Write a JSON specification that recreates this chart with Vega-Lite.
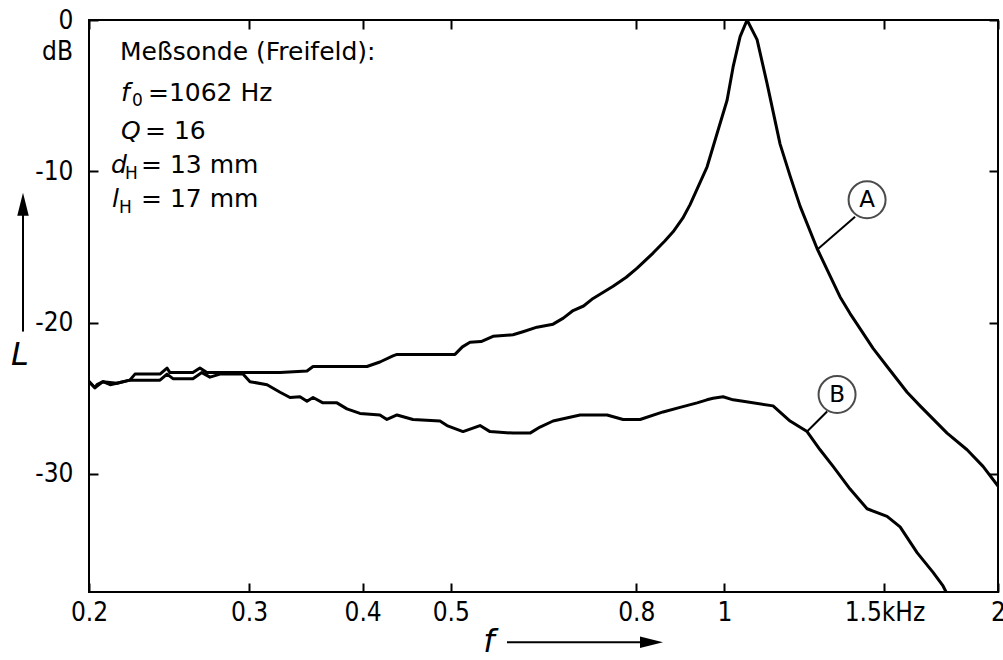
{
  "$schema": "https://vega.github.io/schema/vega-lite/v6.json",
  "width": 909,
  "height": 572,
  "autosize": {"type": "none"},
  "padding": {"left": 89, "top": 20, "right": 5, "bottom": 68},
  "background": "white",
  "config": {
    "view": {"stroke": "black", "strokeWidth": 2},
    "font": "DejaVu Sans",
    "axis": {
      "domain": false,
      "grid": false,
      "tickColor": "black",
      "tickWidth": 2,
      "tickSize": -9,
      "labelColor": "black",
      "labelFont": "DejaVu Sans Condensed",
      "labelFontSize": 26,
      "labelFlush": false,
      "labelOverlap": false,
      "title": null
    }
  },
  "datasets": {
    "curves": [
      {"c": "A", "f": 0.2000, "L": -23.9},
      {"c": "A", "f": 0.2030, "L": -24.3},
      {"c": "A", "f": 0.2041, "L": -24.1},
      {"c": "A", "f": 0.2072, "L": -23.9},
      {"c": "A", "f": 0.2110, "L": -24.1},
      {"c": "A", "f": 0.2146, "L": -24.0},
      {"c": "A", "f": 0.2218, "L": -23.8},
      {"c": "A", "f": 0.2247, "L": -23.4},
      {"c": "A", "f": 0.2394, "L": -23.4},
      {"c": "A", "f": 0.2437, "L": -23.0},
      {"c": "A", "f": 0.2455, "L": -23.3},
      {"c": "A", "f": 0.2602, "L": -23.3},
      {"c": "A", "f": 0.2649, "L": -23.0},
      {"c": "A", "f": 0.2696, "L": -23.3},
      {"c": "A", "f": 0.2931, "L": -23.3},
      {"c": "A", "f": 0.3245, "L": -23.3},
      {"c": "A", "f": 0.3474, "L": -23.2},
      {"c": "A", "f": 0.3528, "L": -22.9},
      {"c": "A", "f": 0.4044, "L": -22.9},
      {"c": "A", "f": 0.4179, "L": -22.6},
      {"c": "A", "f": 0.4319, "L": -22.2},
      {"c": "A", "f": 0.4364, "L": -22.1},
      {"c": "A", "f": 0.5054, "L": -22.1},
      {"c": "A", "f": 0.5150, "L": -21.6},
      {"c": "A", "f": 0.5250, "L": -21.3},
      {"c": "A", "f": 0.5400, "L": -21.25},
      {"c": "A", "f": 0.5565, "L": -20.9},
      {"c": "A", "f": 0.5854, "L": -20.8},
      {"c": "A", "f": 0.6004, "L": -20.6},
      {"c": "A", "f": 0.6221, "L": -20.3},
      {"c": "A", "f": 0.6480, "L": -20.1},
      {"c": "A", "f": 0.6650, "L": -19.7},
      {"c": "A", "f": 0.6817, "L": -19.2},
      {"c": "A", "f": 0.7000, "L": -18.9},
      {"c": "A", "f": 0.7171, "L": -18.4},
      {"c": "A", "f": 0.7544, "L": -17.6},
      {"c": "A", "f": 0.7800, "L": -17.0},
      {"c": "A", "f": 0.8017, "L": -16.4},
      {"c": "A", "f": 0.8348, "L": -15.4},
      {"c": "A", "f": 0.8600, "L": -14.6},
      {"c": "A", "f": 0.8782, "L": -14.0},
      {"c": "A", "f": 0.9000, "L": -13.1},
      {"c": "A", "f": 0.9168, "L": -12.2},
      {"c": "A", "f": 0.9572, "L": -9.7},
      {"c": "A", "f": 0.9817, "L": -7.5},
      {"c": "A", "f": 1.0069, "L": -5.3},
      {"c": "A", "f": 1.0224, "L": -3.1},
      {"c": "A", "f": 1.0407, "L": -1.1},
      {"c": "A", "f": 1.0593, "L": 0.0},
      {"c": "A", "f": 1.0864, "L": -1.3},
      {"c": "A", "f": 1.1143, "L": -4.2},
      {"c": "A", "f": 1.1516, "L": -8.2},
      {"c": "A", "f": 1.1811, "L": -10.3},
      {"c": "A", "f": 1.2114, "L": -12.3},
      {"c": "A", "f": 1.2647, "L": -15.1},
      {"c": "A", "f": 1.2972, "L": -16.5},
      {"c": "A", "f": 1.3406, "L": -18.3},
      {"c": "A", "f": 1.3750, "L": -19.4},
      {"c": "A", "f": 1.3996, "L": -20.1},
      {"c": "A", "f": 1.4575, "L": -21.7},
      {"c": "A", "f": 1.5101, "L": -22.9},
      {"c": "A", "f": 1.5887, "L": -24.6},
      {"c": "A", "f": 1.6417, "L": -25.5},
      {"c": "A", "f": 1.7579, "L": -27.3},
      {"c": "A", "f": 1.8492, "L": -28.4},
      {"c": "A", "f": 1.9256, "L": -29.5},
      {"c": "A", "f": 2.0000, "L": -30.8},
      {"c": "B", "f": 0.2000, "L": -23.9},
      {"c": "B", "f": 0.2030, "L": -24.3},
      {"c": "B", "f": 0.2072, "L": -23.9},
      {"c": "B", "f": 0.2146, "L": -24.0},
      {"c": "B", "f": 0.2218, "L": -23.8},
      {"c": "B", "f": 0.2394, "L": -23.8},
      {"c": "B", "f": 0.2437, "L": -23.4},
      {"c": "B", "f": 0.2474, "L": -23.7},
      {"c": "B", "f": 0.2602, "L": -23.7},
      {"c": "B", "f": 0.2662, "L": -23.3},
      {"c": "B", "f": 0.2717, "L": -23.6},
      {"c": "B", "f": 0.2787, "L": -23.4},
      {"c": "B", "f": 0.2954, "L": -23.4},
      {"c": "B", "f": 0.3007, "L": -23.9},
      {"c": "B", "f": 0.3140, "L": -24.1},
      {"c": "B", "f": 0.3245, "L": -24.6},
      {"c": "B", "f": 0.3328, "L": -24.95},
      {"c": "B", "f": 0.3413, "L": -24.9},
      {"c": "B", "f": 0.3474, "L": -25.2},
      {"c": "B", "f": 0.3528, "L": -24.95},
      {"c": "B", "f": 0.3617, "L": -25.3},
      {"c": "B", "f": 0.3748, "L": -25.3},
      {"c": "B", "f": 0.3844, "L": -25.7},
      {"c": "B", "f": 0.3973, "L": -26.0},
      {"c": "B", "f": 0.4179, "L": -26.1},
      {"c": "B", "f": 0.4254, "L": -26.4},
      {"c": "B", "f": 0.4364, "L": -26.1},
      {"c": "B", "f": 0.4544, "L": -26.4},
      {"c": "B", "f": 0.4866, "L": -26.5},
      {"c": "B", "f": 0.4953, "L": -26.8},
      {"c": "B", "f": 0.5158, "L": -27.2},
      {"c": "B", "f": 0.5385, "L": -26.8},
      {"c": "B", "f": 0.5523, "L": -27.2},
      {"c": "B", "f": 0.5854, "L": -27.3},
      {"c": "B", "f": 0.6112, "L": -27.3},
      {"c": "B", "f": 0.6269, "L": -26.9},
      {"c": "B", "f": 0.6480, "L": -26.5},
      {"c": "B", "f": 0.6939, "L": -26.1},
      {"c": "B", "f": 0.7430, "L": -26.1},
      {"c": "B", "f": 0.7737, "L": -26.4},
      {"c": "B", "f": 0.8078, "L": -26.4},
      {"c": "B", "f": 0.8562, "L": -25.9},
      {"c": "B", "f": 0.8939, "L": -25.6},
      {"c": "B", "f": 0.9332, "L": -25.3},
      {"c": "B", "f": 0.9568, "L": -25.1},
      {"c": "B", "f": 0.9718, "L": -25.0},
      {"c": "B", "f": 0.9968, "L": -24.9},
      {"c": "B", "f": 1.0224, "L": -25.1},
      {"c": "B", "f": 1.0486, "L": -25.2},
      {"c": "B", "f": 1.1313, "L": -25.5},
      {"c": "B", "f": 1.1811, "L": -26.5},
      {"c": "B", "f": 1.2331, "L": -27.2},
      {"c": "B", "f": 1.2744, "L": -28.4},
      {"c": "B", "f": 1.3171, "L": -29.5},
      {"c": "B", "f": 1.3750, "L": -31.0},
      {"c": "B", "f": 1.4355, "L": -32.3},
      {"c": "B", "f": 1.5101, "L": -32.8},
      {"c": "B", "f": 1.5607, "L": -33.5},
      {"c": "B", "f": 1.6293, "L": -35.2},
      {"c": "B", "f": 1.6967, "L": -36.5},
      {"c": "B", "f": 1.7401, "L": -37.4},
      {"c": "B", "f": 1.7710, "L": -38.3}
    ],
    "rules": [
      {"x": 1.3925, "y": -13.0, "x2": 1.2647, "y2": -15.18},
      {"x": 1.2972, "y": -25.87, "x2": 1.2331, "y2": -27.19},
      {"x": 0.1692, "y": -20.59, "x2": 0.1692, "y2": -12.6},
      {"x": 0.5766, "y": -41.12, "x2": 0.818, "y2": -41.12}
    ],
    "circles": [
      {"x": 1.4355, "y": -11.88, "t": "A"},
      {"x": 1.3304, "y": -24.75, "t": "B"}
    ],
    "heads": [
      {"x": 0.1692, "y": -12.18, "s": "M0,-1L0.5,1L-0.5,1Z"},
      {"x": 0.8315, "y": -41.12, "s": "M1,0L-1,0.5L-1,-0.5Z"}
    ],
    "normal": [
      {"x": 0.2163, "y": -2.11, "t": "Meßsonde (Freifeld):"},
      {"x": 0.2322, "y": -4.82, "t": "=1062 Hz"},
      {"x": 0.2305, "y": -7.33, "t": "= 16"},
      {"x": 0.2282, "y": -9.57, "t": "= 13 mm"},
      {"x": 0.2282, "y": -11.82, "t": "= 17 mm"}
    ],
    "italic": [
      {"x": 0.2169, "y": -4.82, "t": "f"},
      {"x": 0.2169, "y": -7.33, "t": "Q"},
      {"x": 0.2115, "y": -9.57, "t": "d"},
      {"x": 0.2120, "y": -11.82, "t": "l"}
    ],
    "subs": [
      {"x": 0.2230, "y": -5.35, "t": "0"},
      {"x": 0.2191, "y": -10.17, "t": "H"},
      {"x": 0.2158, "y": -12.41, "t": "H"}
    ],
    "unit": [
      {"x": 0.19206, "y": -2.11, "t": "dB"}
    ],
    "big": [
      {"x": 0.1679, "y": -22.11, "t": "L"},
      {"x": 0.5508, "y": -41.12, "t": "f"}
    ]
  },
  "layer": [
    {
      "data": {"name": "curves"},
      "mark": {"type": "line", "clip": true, "color": "black", "strokeWidth": 3, "strokeJoin": "round"},
      "encoding": {
        "x": {
          "field": "f", "type": "quantitative",
          "scale": {"type": "log", "domain": [0.2, 2], "nice": false},
          "axis": {
            "orient": "bottom",
            "values": [0.2, 0.3, 0.4, 0.5, 0.8, 1, 1.5, 2],
            "labelExpr": "datum.value == 1.5 ? '1.5kHz' : format(datum.value, '~g')",
            "labelPadding": 16,
            "encode": {"labels": {"update": {
              "align": {"signal": "datum.value == 1.5 ? 'left' : 'center'"},
              "dx": {"signal": "datum.value == 1.5 ? -8 : 0"}
            }}}
          }
        },
        "y": {
          "field": "L", "type": "quantitative",
          "scale": {"domain": [-37.8, 0], "nice": false, "zero": false},
          "axis": {
            "orient": "left",
            "values": [0, -10, -20, -30],
            "labelExpr": "datum.value == 0 ? '0' : '-' + abs(datum.value)",
            "labelPadding": 25
          }
        },
        "detail": {"field": "c"}
      }
    },
    {
      "data": {"name": "rules"},
      "mark": {"type": "rule", "clip": false, "color": "black", "strokeWidth": 2},
      "encoding": {
        "x": {"field": "x", "type": "quantitative",
          "axis": {"orient": "top", "labels": false, "values": [0.2, 0.3, 0.4, 0.5, 0.8, 1, 1.5, 2]}},
        "y": {"field": "y", "type": "quantitative",
          "axis": {"orient": "right", "labels": false, "values": [0, -10, -20, -30]}},
        "x2": {"field": "x2"},
        "y2": {"field": "y2"}
      }
    },
    {
      "data": {"name": "circles"},
      "mark": {"type": "point", "shape": "circle", "size": 1369, "filled": false, "stroke": "black", "strokeWidth": 2, "clip": false},
      "encoding": {
        "x": {"field": "x", "type": "quantitative", "axis": null},
        "y": {"field": "y", "type": "quantitative", "axis": null}
      }
    },
    {
      "data": {"name": "circles"},
      "mark": {"type": "text", "fontSize": 23, "align": "center", "baseline": "middle", "color": "black", "font": "DejaVu Sans"},
      "encoding": {
        "x": {"field": "x", "type": "quantitative", "axis": null},
        "y": {"field": "y", "type": "quantitative", "axis": null},
        "text": {"field": "t"}
      }
    },
    {
      "data": {"name": "heads"},
      "mark": {"type": "point", "filled": true, "color": "black", "opacity": 1, "size": 529, "clip": false},
      "encoding": {
        "x": {"field": "x", "type": "quantitative", "axis": null},
        "y": {"field": "y", "type": "quantitative", "axis": null},
        "shape": {"field": "s", "type": "nominal", "scale": null}
      }
    },
    {
      "data": {"name": "normal"},
      "mark": {"type": "text", "fontSize": 25, "align": "left", "baseline": "middle", "color": "black", "font": "DejaVu Sans", "clip": false},
      "encoding": {
        "x": {"field": "x", "type": "quantitative", "axis": null},
        "y": {"field": "y", "type": "quantitative", "axis": null},
        "text": {"field": "t"}
      }
    },
    {
      "data": {"name": "italic"},
      "mark": {"type": "text", "fontSize": 25, "fontStyle": "italic", "align": "left", "baseline": "middle", "color": "black", "font": "DejaVu Sans", "clip": false},
      "encoding": {
        "x": {"field": "x", "type": "quantitative", "axis": null},
        "y": {"field": "y", "type": "quantitative", "axis": null},
        "text": {"field": "t"}
      }
    },
    {
      "data": {"name": "subs"},
      "mark": {"type": "text", "fontSize": 17, "align": "left", "baseline": "middle", "color": "black", "font": "DejaVu Sans", "clip": false},
      "encoding": {
        "x": {"field": "x", "type": "quantitative", "axis": null},
        "y": {"field": "y", "type": "quantitative", "axis": null},
        "text": {"field": "t"}
      }
    },
    {
      "data": {"name": "unit"},
      "mark": {"type": "text", "fontSize": 26, "align": "right", "baseline": "middle", "color": "black", "font": "DejaVu Sans Condensed", "clip": false},
      "encoding": {
        "x": {"field": "x", "type": "quantitative", "axis": null},
        "y": {"field": "y", "type": "quantitative", "axis": null},
        "text": {"field": "t"}
      }
    },
    {
      "data": {"name": "big"},
      "mark": {"type": "text", "fontSize": 32, "fontStyle": "italic", "align": "center", "baseline": "middle", "color": "black", "font": "DejaVu Sans", "clip": false},
      "encoding": {
        "x": {"field": "x", "type": "quantitative", "axis": null},
        "y": {"field": "y", "type": "quantitative", "axis": null},
        "text": {"field": "t"}
      }
    }
  ],
  "resolve": {"axis": {"x": "independent", "y": "independent"}}
}
